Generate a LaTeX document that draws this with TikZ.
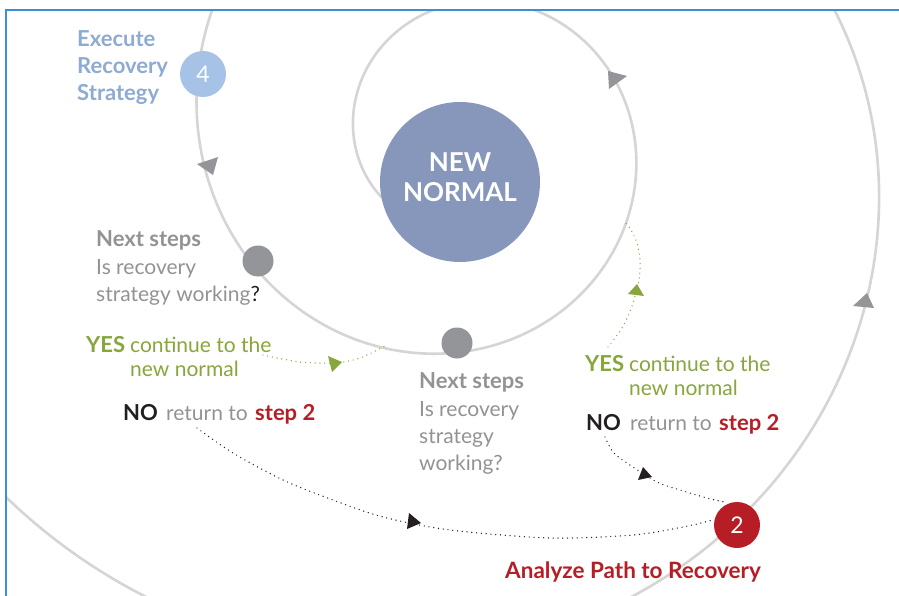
\documentclass[tikz,border=0pt]{standalone}
\usepackage{fontspec}
\setmainfont{Lato}
\definecolor{spiralgray}{HTML}{D5D5D5}
\definecolor{arrowgray}{HTML}{939598}
\definecolor{txtgray}{HTML}{939393}
\definecolor{nnblue}{HTML}{8797BC}
\definecolor{lblue}{HTML}{A6C3E7}
\definecolor{tblue}{HTML}{8EABD3}
\definecolor{ygreen}{HTML}{87A63C}
\definecolor{sred}{HTML}{B71D25}
\definecolor{nblack}{HTML}{231F20}
\definecolor{framebl}{HTML}{3C8FD0}
\begin{document}
\begin{tikzpicture}[x=1pt,y=-1pt,
  spiral/.style={draw=spiralgray, line width=2.6pt},
  dotline/.style={line width=1.4pt, line cap=round, dash pattern=on 0pt off 4.8pt},
  lbl/.style={inner sep=0pt, anchor=base west, font=\fontsize{21}{24}\selectfont},
  blbl/.style={inner sep=0pt, anchor=base west, font=\bfseries\fontsize{22}{24}\selectfont},
  ttl/.style={inner sep=0pt, anchor=base west, text=tblue, font=\bfseries\fontsize{22}{24}\selectfont},
  stepnum/.style={circle, minimum size=46pt, inner sep=0pt, text=white, font=\fontsize{23}{24}\selectfont},
  graydot/.style={circle, fill=arrowgray, minimum size=31pt, inner sep=0pt}]
\useasboundingbox (0,0) rectangle (899,596);
\fill[white] (0,0) rectangle (899,596);
\begin{scope}
\clip (6,10) rectangle (899,596);
% logarithmic spiral around (464,139)
\draw[spiral] plot[domain=140:900, samples=400, variable=\t, smooth]
  ({464+110*exp(0.0024347*(\t-180))*cos(\t)}, {139+110*exp(0.0024347*(\t-180))*sin(\t)});
\end{scope}
% spiral arrowheads
\fill[arrowgray] (608,71) -- (627,76) -- (609,89) -- cycle;
\fill[arrowgray] (197,164) -- (218,157) -- (213,175) -- cycle;
\fill[arrowgray] (853,306) -- (867,293) -- (874,308) -- cycle;
% frame
\draw[framebl, line width=1.8pt] (6,596) -- (6,10) -- (899,10);
% central circle
\node[circle, fill=nnblue, minimum size=160pt, inner sep=0pt] (nn) at (460,182) {};
\node[inner sep=0pt, anchor=base, text=white, font=\bfseries\fontsize{26}{28}\selectfont] (nn1) at (460,172) {NEW};
\node[inner sep=0pt, anchor=base, text=white, font=\bfseries\fontsize{26}{28}\selectfont] (nn2) at (460,202) {NORMAL};
% step circles and dots
\node[stepnum, fill=lblue] (s4) at (203,74) {4};
\node[stepnum, fill=sred] (s2) at (737,525) {2};
\node[graydot] (d1) at (258,261) {};
\node[graydot] (d2) at (457,343) {};
% dotted connectors
\draw[ygreen, dotline] plot[smooth] coordinates {(263,355) (300,362) (335,363) (360,358) (385,346)};
\fill[ygreen] (328,356) -- (342,362) -- (332,372) -- cycle;
\draw[ygreen, dotline] plot[smooth] coordinates {(608,347) (622,328) (632,306) (639,280) (640,260) (637,243) (631,230) (625,222)};
\fill[ygreen] (628,294) -- (637,284) -- (644,296) -- cycle;
\draw[nblack, dotline] plot[smooth] coordinates {(197,428) (233,453) (283,480) (333,500) (383,517) (450,530) (550,538) (633,535) (683,527) (713,520)};
\fill[nblack] (407,529) -- (409,513) -- (421,523) -- cycle;
\draw[nblack, dotline] plot[smooth] coordinates {(605,437) (613,452) (627,463) (657,482) (680,490) (707,498) (724,502)};
\fill[nblack] (638,480) -- (643,467) -- (652,477) -- cycle;
% titles
\node[ttl] (ex1) at (77,47) {Execute};
\node[ttl] (ex2) at (77,74) {Recovery};
\node[ttl] (ex3) at (77,101) {Strategy};
\node[inner sep=0pt, anchor=base, text=sred, font=\bfseries\fontsize{22.5}{24}\selectfont] (an) at (633,578) {Analyze Path to Recovery};
% next steps 1
\node[blbl, text=txtgray] (n1a) at (96,246) {Next steps};
\node[lbl, text=txtgray] (n1b) at (96,274) {Is recovery};
\node[lbl, text=txtgray] (n1c) at (96,301) {strategy working\textcolor{nblack}{?}};
% next steps 2
\node[blbl, text=txtgray] (n2a) at (419,388) {Next steps};
\node[lbl, text=txtgray] (n2b) at (419,416) {Is recovery};
\node[lbl, text=txtgray] (n2c) at (419,443) {strategy};
\node[lbl, text=txtgray] (n2d) at (419,470) {working?};
% yes/no left
\node[blbl, text=ygreen] (y1) at (86,352) {YES};
\node[lbl, text=ygreen] (y1a) at (130,352) {continue to the};
\node[lbl, text=ygreen] (y1b) at (130,376) {new normal};
\node[blbl, text=nblack] (no1) at (123,420) {NO};
\node[lbl, text=txtgray] (no1a) at (166,420) {return to};
\node[blbl, text=sred] (no1b) at (255,420) {step 2};
% yes/no right
\node[blbl, text=ygreen] (y2) at (585,371) {YES};
\node[lbl, text=ygreen] (y2a) at (629,371) {continue to the};
\node[lbl, text=ygreen] (y2b) at (629,395) {new normal};
\node[blbl, text=nblack] (no2) at (586,430) {NO};
\node[lbl, text=txtgray] (no2a) at (630,430) {return to};
\node[blbl, text=sred] (no2b) at (719,430) {step 2};
\end{tikzpicture}
\end{document}
